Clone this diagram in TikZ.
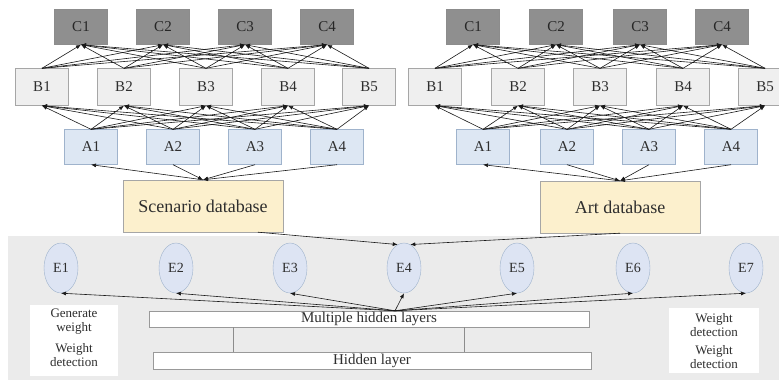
\documentclass[tikz,border=0pt]{standalone}
\usepackage{fontspec}
\setmainfont{Liberation Serif}
\usepackage{tikz}
\usetikzlibrary{positioning, arrows.meta, shapes.geometric}
\definecolor{cfill}{HTML}{8F8F8F}
\definecolor{bfill}{HTML}{EFEFEF}
\definecolor{afill}{HTML}{DDE7F3}
\definecolor{aline}{HTML}{9FB3CC}
\definecolor{dbfill}{HTML}{FCF0CD}
\definecolor{efill}{HTML}{DDE4F3}
\definecolor{panel}{HTML}{EBEBEB}
\definecolor{ink}{HTML}{2E2E2E}

\begin{document}
\begin{tikzpicture}[x=1pt, y=-1pt,
  box/.style={draw=gray!70, minimum width=53pt, text=ink, font=\fontsize{15}{15}\selectfont},
  cbox/.style={box, fill=cfill, draw=gray!90, minimum height=35pt, text=black!85},
  bbox/.style={box, fill=bfill, minimum height=37pt},
  abox/.style={box, fill=afill, draw=aline, minimum height=35pt},
  dbbox/.style={box, fill=dbfill, minimum width=160pt, minimum height=52pt, font=\fontsize{18}{18}\selectfont},
  enode/.style={ellipse, draw=aline, fill=efill, minimum width=34pt, minimum height=50pt, inner sep=0pt, text=ink, font=\fontsize{14}{14}\selectfont},
  layer/.style={draw=gray!80, fill=white, text=ink, font=\fontsize{15}{15}\selectfont, inner sep=0pt},
  note/.style={align=center, text=ink, font=\fontsize{13}{14}\selectfont},
  arr/.style={-{Latex[length=5pt,width=4pt]}, black!90, line width=0.6pt}]
\useasboundingbox (0,0) rectangle (779,380);
% bottom panel
\fill[panel] (8,236) rectangle (779,380);
\fill[white] (30,305) rectangle (118,376);
\fill[white] (669,308) rectangle (759,373);
% left network
\foreach \i/\x in {1/81,2/163,3/245,4/327}{\node[cbox] (LC\i) at (\x,27) {C\i};}
\foreach \i/\x in {1/42,2/124,3/206,4/288,5/369}{\node[bbox] (LB\i) at (\x,87) {B\i};}
\foreach \i/\x in {1/91,2/173,3/255,4/337}{\node[abox] (LA\i) at (\x,147) {A\i};}
\node[dbbox] (db1) at (203,206) {Scenario database};
% right network
\foreach \i/\x in {1/473,2/556,3/640,4/722}{\node[cbox] (RC\i) at (\x,27) {C\i};}
\foreach \i/\x in {1/435,2/518,3/600,4/683,5/765}{\node[bbox] (RB\i) at (\x,87) {B\i};}
\foreach \i/\x in {1/483,2/567,3/649,4/731}{\node[abox] (RA\i) at (\x,147) {A\i};}
\node[dbbox] (db2) at (620,207) {Art database};
% fully connected layers
\foreach \g in {L,R}{
  \foreach \b in {1,...,5}{\foreach \c in {1,...,4}{\draw[arr] (\g B\b.north) -- (\g C\c.south);}}
  \foreach \a in {1,...,4}{\foreach \b in {1,...,5}{\draw[arr] (\g A\a.north) -- (\g B\b.south);}}
}
\draw[arr] (db1.north) -- (LA1.south);
\foreach \a in {2,3,4}{\draw[arr] (LA\a.south) -- (db1.north);}
\draw[arr] (db2.north) -- (RA1.south);
\foreach \a in {2,3,4}{\draw[arr] (RA\a.south) -- (db2.north);}
% output nodes
\foreach \i/\x in {1/61,2/176,3/290,4/404,5/517,6/633,7/746}{\node[enode] (E\i) at (\x,268) {E\i};}
\draw[arr] ([xshift=55pt]db1.south) -- (E4.105);
\draw[arr] (db2.south) -- (E4.75);
% hidden layers
\node[layer, minimum width=440pt, minimum height=16pt] (mhl) at (369,319) {Multiple hidden layers};
\node[layer, minimum width=438pt, minimum height=17pt] (hl) at (372,360.5) {Hidden layer};
\draw[gray!90] ([xshift=-136pt]mhl.south) -- ([xshift=-136pt]mhl.south |- hl.north);
\draw[gray!90] ([xshift=95pt]mhl.south) -- ([xshift=95pt]mhl.south |- hl.north);
\coordinate (hub) at ([xshift=26pt]mhl.north);
\foreach \i in {1,...,7}{\draw[arr] (hub) -- (E\i.south);}
% side notes
\node[note] (gen) at (74,322) {Generate\\weight};
\node[note] (wd1) at (74,355) {Weight\\detection};
\node[note] (wd2) at (714,325) {Weight\\detection};
\node[note] (wd3) at (714,357) {Weight\\detection};
\end{tikzpicture}
\end{document}
